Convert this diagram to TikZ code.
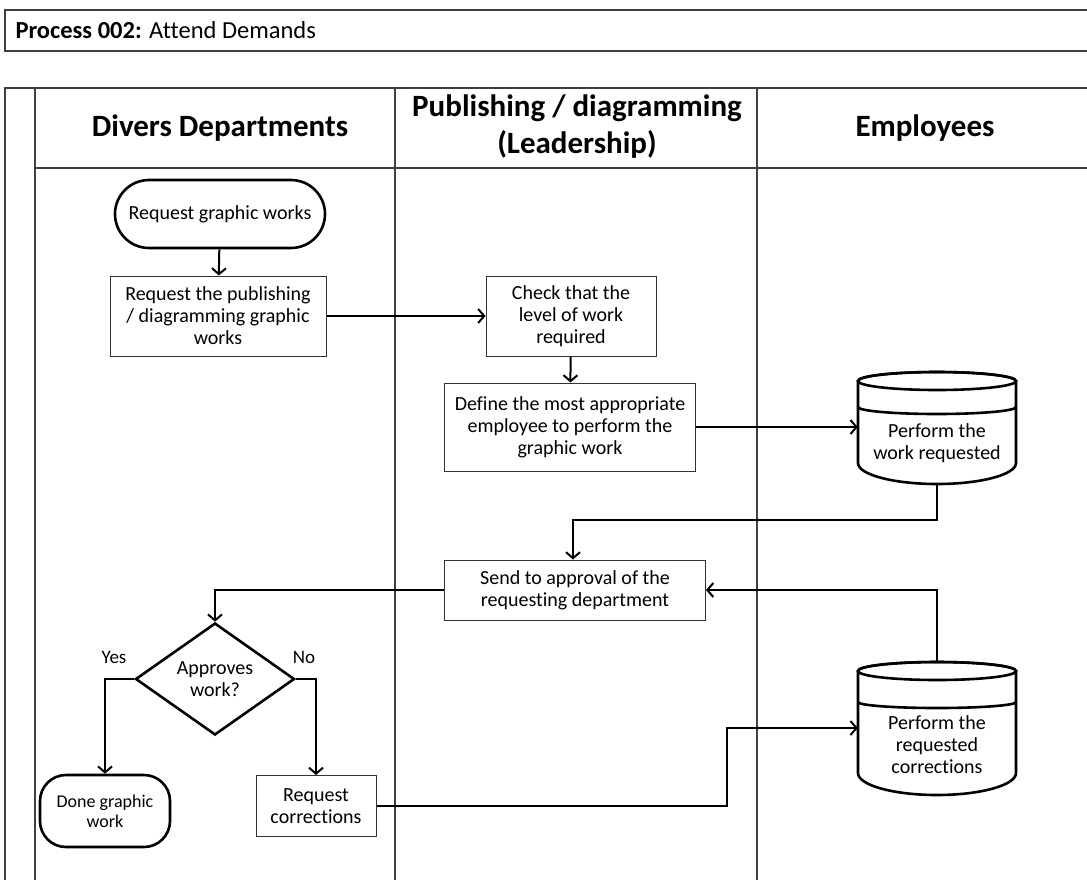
\documentclass[tikz,border=0pt]{standalone}
\usepackage{fontspec}
\setmainfont[Ligatures=NoCommon]{Carlito}
\usetikzlibrary{arrows.meta,shapes.geometric}

\begin{document}
\begin{tikzpicture}[x=1pt,y=-1pt,
  lane/.style={line width=1.2pt, color=black!75},
  box/.style={draw=black!80, line width=1pt, align=center, font=\fontsize{20}{22}\selectfont},
  term/.style={draw, line width=2.6pt, rounded corners=30pt, align=center, font=\fontsize{20}{22}\selectfont},
  drumtxt/.style={align=center, font=\fontsize{20}{22}\selectfont},
  heavy/.style={line width=2.6pt},
  flow/.style={line width=2pt, -{Straight Barb[length=6pt,width=14pt,line width=2pt]}},
  hdr/.style={align=center, font=\fontsize{31}{37}\selectfont\bfseries}]
\useasboundingbox (0,0) rectangle (1087,879);
% title and swimlanes
\draw[lane] (5,10) rectangle (1100,51);
\node[anchor=west, font=\fontsize{24.5}{28}\selectfont] (title) at (12,30) {\textbf{Process 002:} Attend Demands};
\draw[lane] (5,890) -- (5,88) -- (1100,88);
\draw[lane] (35,88) -- (35,890);
\draw[lane] (35,168) -- (1100,168);
\draw[lane] (395,88) -- (395,890);
\draw[lane] (757,88) -- (757,890);
\node[hdr] (hdiv) at (220,128) {Divers Departments};
\node[hdr] (hpub) at (577,127) {Publishing / diagramming\\(Leadership)};
\node[hdr] (hemp) at (925,128) {Employees};
% drums (employees)
\filldraw[heavy, fill=white] (858,381) -- (858,463) arc[start angle=180,end angle=0,x radius=79,y radius=21] -- (1016,381) arc[start angle=0,end angle=-180,x radius=79,y radius=9] -- cycle;
\draw[heavy] (937,381) ellipse[x radius=79,y radius=9];
\draw[heavy] (858,407) arc[start angle=180,end angle=0,x radius=79,y radius=7];
\filldraw[heavy, fill=white] (858,671) -- (858,773) arc[start angle=180,end angle=0,x radius=79,y radius=22] -- (1016,671) arc[start angle=0,end angle=-180,x radius=79,y radius=9] -- cycle;
\draw[heavy] (937,671) ellipse[x radius=79,y radius=9];
\draw[heavy] (858,702) arc[start angle=180,end angle=0,x radius=79,y radius=6];
% nodes
\node[term, minimum width=210, minimum height=68, rounded corners=34pt] (rgw) at (220,214) {Request graphic works};
\node[box, minimum width=216, minimum height=80] (rpub) at (218,316) {Request the publishing\\/ diagramming graphic\\works};
\node[box, minimum width=170, minimum height=80] (chk) at (571,316) {Check that the\\level of work\\required};
\node[box, minimum width=251, minimum height=88] (defn) at (570,427) {Define the most appropriate\\employee to perform the\\graphic work};
\node[minimum width=158, minimum height=112, inner sep=0] (work) at (937,428) {};
\node[drumtxt] (worktxt) at (937,443) {Perform the\\work requested};
\node[box, minimum width=261, minimum height=60] (send) at (575,590) {Send to approval of the\\requesting department};
\node[diamond, draw, heavy, minimum width=159, minimum height=112, inner sep=0, align=center, font=\fontsize{20}{22}\selectfont] (appr) at (215,679) {Approves\\work?};
\node[term, minimum width=130, minimum height=72, rounded corners=26pt, font=\fontsize{18}{20}\selectfont] (done) at (105,811) {Done graphic\\work};
\node[box, minimum width=120, minimum height=61] (reqc) at (316,806) {Request\\corrections};
\node[minimum width=158, minimum height=133, inner sep=0] (corr) at (937,728) {};
\node[drumtxt] (corrtxt) at (937,745) {Perform the\\requested\\corrections};
\node[font=\fontsize{19}{22}\selectfont] (yes) at (114,657) {Yes};
\node[font=\fontsize{19}{22}\selectfont] (no) at (304,657) {No};
% connectors
\draw[flow] (rgw) -- (rpub);
\draw[flow] (rpub) -- (chk);
\draw[flow] (chk) -- (defn);
\draw[flow] (defn.east) -- (defn.east -| work.west);
\coordinate (down1) at (573,520);
\draw[flow] (work.south) |- (down1) -- (send.north -| down1);
\draw[flow] (send.west) -| (appr.north);
\draw[flow] (appr.west) -| (done.north);
\draw[flow] (appr.east) -| (reqc.north);
\coordinate (jog) at (727,728);
\draw[flow] (reqc.east) -| (jog) -- (corr.west);
\draw[flow] (corr.north) |- (send.east);
\end{tikzpicture}
\end{document}
